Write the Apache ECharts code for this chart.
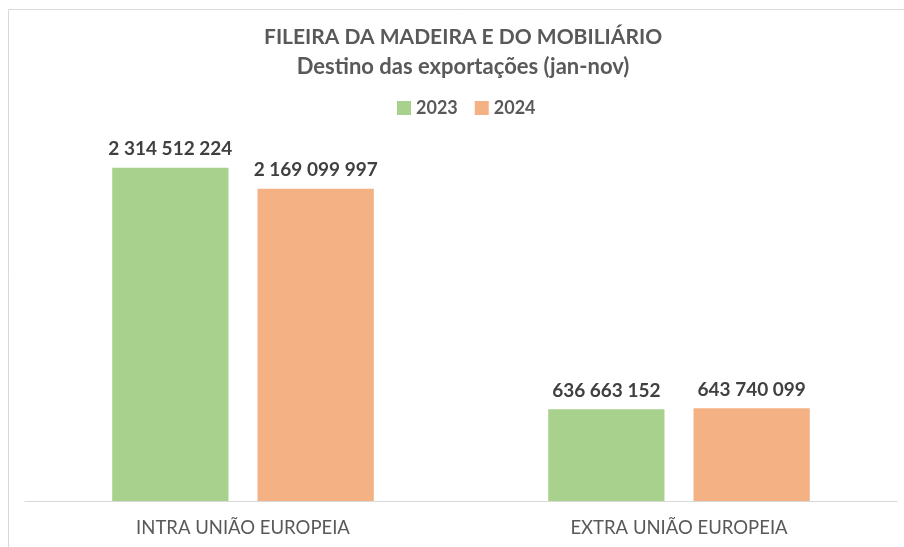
<!DOCTYPE html>
<html>
<head>
<meta charset="utf-8">
<script src="https://cdn.jsdelivr.net/npm/echarts@6/dist/echarts.min.js"></script>
<style>
  html, body { margin: 0; padding: 0; background: #ffffff; }
  #chart { width: 904px; height: 547px; }
</style>
</head>
<body>
<div id="chart"></div>
<script>
// Export destinations, January to November
const categories = ['INTRA UNIÃO EUROPEIA', 'EXTRA UNIÃO EUROPEIA'];
const seriesNames = ['2023', '2024'];
const values2023 = [2314512224, 636663152];
const values2024 = [2169099997, 643740099];

const FONT = 'Lato, "Open Sans", sans-serif';
const colors = ['#a9d18e', '#f4b183'];

// Thousands separated by spaces: 2 314 512 224
function fmt(v) {
  return String(v).replace(/\B(?=(\d{3})+(?!\d))/g, ' ');
}

const chart = echarts.init(document.getElementById('chart'), null, { renderer: 'canvas' });

const labelStyle = {
  show: true,
  position: 'top',
  distance: 9,
  fontFamily: FONT,
  fontWeight: 'bold',
  fontSize: 19,
  color: '#404040',
  formatter: p => fmt(p.value)
};

chart.setOption({
  animation: false,
  backgroundColor: '#ffffff',
  graphic: [{
    type: 'rect',
    shape: { x: 8.5, y: 9.5, width: 1000, height: 1000 },
    style: { fill: 'none', stroke: '#d9d9d9', lineWidth: 1 },
    silent: true
  }],
  title: {
    text: '{a|FILEIRA DA MADEIRA E DO MOBILIÁRIO}\n{b|Destino das exportações (jan-nov)}',
    left: 259,
    top: 17,
    textAlign: 'left',
    textStyle: {
      align: 'center',
      rich: {
        a: { fontFamily: FONT, fontWeight: 'bold', fontSize: 21, lineHeight: 30, color: '#595959', align: 'center' },
        b: { fontFamily: FONT, fontWeight: 'bold', fontSize: 22, lineHeight: 30, color: '#595959', align: 'center' }
      }
    }
  },
  legend: {
    data: seriesNames,
    top: 94,
    left: 392,
    itemWidth: 14,
    itemHeight: 14,
    itemGap: 17,
    icon: 'rect',
    textStyle: {
      fontFamily: FONT,
      fontWeight: 'bold',
      fontSize: 18,
      color: '#595959'
    }
  },
  grid: { left: 25, right: 7, top: 141, bottom: 46, containLabel: false },
  xAxis: {
    type: 'category',
    data: categories,
    axisLine: { show: true, lineStyle: { color: '#d9d9d9', width: 1 } },
    axisTick: { show: false },
    axisLabel: {
      fontFamily: FONT,
      fontSize: 18.5,
      color: '#595959',
      margin: 18
    }
  },
  yAxis: {
    type: 'value',
    min: 0,
    max: 2500000000,
    show: false,
    splitLine: { show: false }
  },
  series: [
    {
      name: seriesNames[0],
      type: 'bar',
      data: values2023,
      itemStyle: { color: colors[0] },
      barGap: '25%',
      barCategoryGap: '40%',
      label: labelStyle
    },
    {
      name: seriesNames[1],
      type: 'bar',
      data: values2024,
      itemStyle: { color: colors[1] },
      barGap: '25%',
      barCategoryGap: '40%',
      label: labelStyle
    }
  ]
});
</script>
</body>
</html>
